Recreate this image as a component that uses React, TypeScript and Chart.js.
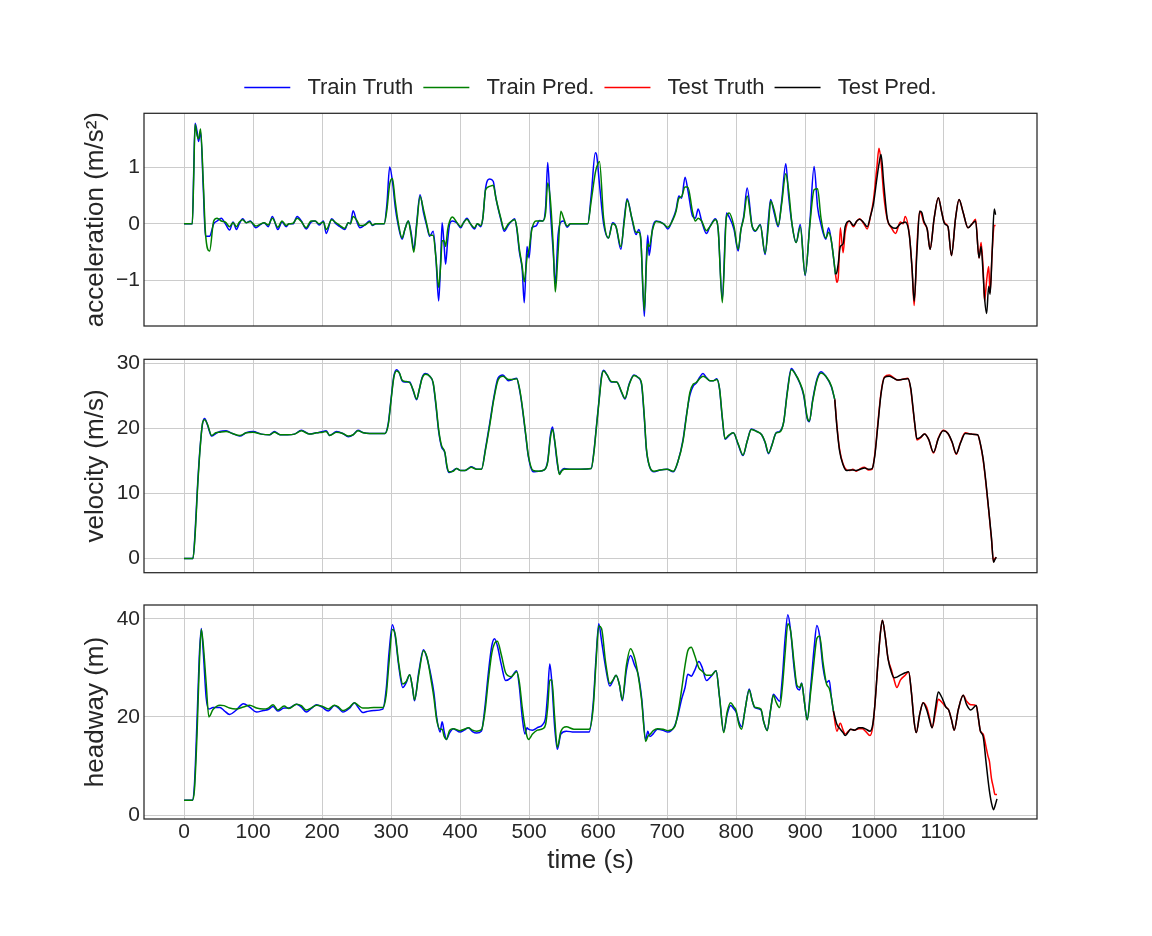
import React, { useEffect, useRef } from "react";
import { Chart, registerables } from "chart.js";

Chart.register(...registerables);

// ---------- tick labels ----------
const xTicks = [0, 100, 200, 300, 400, 500, 600, 700, 800, 900, 1000, 1100];
const accTicks = [-1, 0, 1];
const velTicks = [0, 10, 20, 30];
const hwTicks = [0, 20, 40];

const legendNames = ["Train Truth", "Train Pred.", "Test Truth", "Test Pred."];

// ---------- acceleration ----------
const accTrainT = [
  0, 12, 14, 16, 19, 21, 24, 28, 31, 37,
  43, 48, 54, 60, 66, 71, 76, 80, 85, 90,
  96, 104, 110, 116, 122, 128, 136, 142, 148, 152,
  158, 164, 170, 177, 184, 190, 196, 202, 206, 214,
  220, 226, 233, 238, 241, 245, 250, 255, 262, 269,
  273, 278, 284, 290, 294, 298, 302, 306, 310, 316,
  320, 325, 329, 333, 337, 342, 347, 352, 356, 361,
  365, 369, 372, 374, 377, 379, 382, 385, 389, 395,
  401, 405, 410, 415, 421, 425, 430, 433, 437, 443,
  448, 452, 459, 464, 470, 475, 479, 482, 486, 490,
  493, 497, 500, 504, 510, 515, 520, 524, 527, 531,
  535, 538, 542, 546, 550, 555, 560, 570, 585, 590,
  596, 598, 602, 608, 615, 621, 626, 633, 638, 642,
  649, 655, 659, 662, 667, 670, 672, 674, 679, 684,
  695, 701, 708, 713, 717, 721, 726, 730, 737, 741,
  745, 750, 757, 762, 770, 774, 780, 786, 790, 797,
  803, 807, 811, 816, 823, 828, 835, 842, 847, 850,
  855, 861, 866, 872, 876, 881, 887, 893, 900, 907,
  913, 918, 923, 930, 934, 938, 944,
];
const accTrainTruth = [
  0, 0, 0.9, 1.77, 1.62, 1.45, 1.62, 0.6, -0.22, -0.22,
  0, 0.05, 0.1, 0, -0.11, 0.03, -0.1, 0, 0.09, 0.02,
  0.05, -0.07, -0.02, 0.02, -0.05, 0.13, -0.1, 0.03, -0.05, 0,
  0, 0.13, 0.05, -0.09, 0.03, 0.05, -0.02, 0.05, -0.17, 0.09,
  0, -0.05, -0.1, 0.02, 0, 0.23, 0.05, -0.07, -0.02, 0.05,
  -0.03, 0, 0, 0, 0.35, 1.0, 0.75, 0.3, 0, -0.27,
  -0.1, 0.05, -0.15, -0.45, 0, 0.51, 0.2, -0.05, -0.22, -0.13,
  -0.6, -1.36, -0.6, 0.02, -0.4, -0.71, -0.3, 0, 0.05, 0.02,
  -0.07, 0.02, 0.1, 0, -0.09, 0, -0.05, 0.1, 0.63, 0.79,
  0.75, 0.45, 0.08, -0.13, -0.02, 0.05, 0.09, -0.07, -0.5, -0.8,
  -1.39, -0.4, -0.6, -0.07, -0.04, 0.06, 0.05, 0.3, 1.08, 0.2,
  -0.5, -1.06, -0.2, 0.03, 0.05, -0.06, 0, 0, 0, 0.5,
  1.25, 1.2, 0.7, 0, -0.25, 0.02, -0.05, -0.45, 0.1, 0.44,
  0.09, -0.19, -0.1, -0.28, -1.63, -0.6, -0.2, -0.56, -0.07, 0.05,
  0, -0.09, 0.08, 0.25, 0.49, 0.45, 0.82, 0.6, 0.13, 0.1,
  0.26, 0.05, -0.17, -0.05, 0.09, -0.1, -1.33, 0.19, 0.12, -0.1,
  -0.48, -0.1, 0.13, 0.63, -0.03, -0.13, -0.01, -0.54, 0.1, 0.43,
  0.2, -0.05, 0.4, 1.06, 0.5, -0.01, -0.33, -0.01, -0.91, 0.05,
  1.01, 0.3, -0.01, -0.27, -0.07, -0.3, -0.89,
];
const accTrainPred = [
  0, 0, 0.8, 1.75, 1.55, 1.5, 1.67, 0.7, -0.15, -0.48,
  0.05, 0.1, 0.05, 0.03, -0.05, 0.02, -0.05, 0.03, 0.07, 0.02,
  0.04, -0.04, -0.01, 0.02, -0.02, 0.1, -0.06, 0.05, -0.03, 0,
  0.01, 0.1, 0.04, -0.07, 0.05, 0.05, 0, 0.03, -0.1, 0.07,
  0.02, -0.03, -0.08, 0.02, 0, 0.13, 0.07, -0.03, -0.02, 0.03,
  -0.02, 0, 0, 0, 0.25, 0.7, 0.8, 0.4, 0.05, -0.25,
  -0.1, 0.05, -0.2, -0.5, -0.05, 0.48, 0.25, -0.02, -0.2, -0.2,
  -0.6, -1.12, -0.7, -0.3, -0.3, -0.4, -0.1, 0.05, 0.12, 0.03,
  -0.05, 0.02, 0.08, 0, -0.07, 0, -0.03, 0.1, 0.6, 0.66,
  0.68, 0.45, 0.1, -0.1, 0, 0.05, 0.07, -0.05, -0.45, -0.75,
  -1.02, -0.6, -0.45, -0.1, 0.05, 0.05, 0.05, 0.2, 0.72, 0.4,
  -0.4, -1.2, -0.5, 0.22, 0.1, -0.04, 0, 0, 0, 0.4,
  0.9, 1.0, 1.1, 0.1, -0.25, 0, -0.05, -0.4, 0.05, 0.42,
  0.1, -0.15, -0.15, -0.3, -1.53, -0.7, -0.35, -0.4, -0.1, 0.04,
  0, -0.06, 0.06, 0.22, 0.45, 0.48, 0.65, 0.65, 0.2, 0.05,
  0.1, 0.05, -0.12, -0.05, 0.07, -0.1, -1.39, 0.12, 0.19, -0.05,
  -0.45, -0.1, 0.1, 0.49, -0.03, -0.12, -0.02, -0.52, 0, 0.4,
  0.25, -0.03, 0.35, 0.88, 0.6, 0, -0.33, -0.05, -0.9, 0,
  0.6, 0.62, 0.1, -0.25, -0.15, -0.3, -0.89,
];
const accTestT = [
  944, 946, 948, 951, 955, 958, 964, 970, 975, 979,
  985, 990, 995, 999, 1004, 1007, 1010, 1014, 1019, 1025,
  1031, 1038, 1042, 1045, 1051, 1055, 1058, 1062, 1066, 1069,
  1072, 1077, 1081, 1087, 1093, 1098, 1102, 1107, 1112, 1118,
  1123, 1129, 1136, 1142, 1147, 1152, 1155, 1158, 1160, 1163,
  1166, 1168, 1171, 1174, 1176,
];
const accTestTruth = [
  -0.89, -1.03, -0.95, -0.07, -0.51, -0.15, 0.05, -0.05, 0.05, 0.09,
  0, -0.09, 0.15, 0.42, 1.0, 1.33, 1.1, 0.5, 0.08, -0.07,
  -0.17, 0.03, 0, 0.13, -0.19, -0.8, -1.44, -0.4, 0.22, 0.15,
  0.02, -0.1, -0.45, 0.1, 0.46, 0.2, 0.02, -0.05, -0.56, 0.1,
  0.43, 0.2, -0.07, 0, 0.08, -0.6, -0.33, -0.8, -1.36, -1.0,
  -0.75, -1.21, -0.5, -0.03, -0.03,
];
const accTestPred = [
  -0.89, -0.85, -0.7, -0.4, -0.35, -0.05, 0.05, -0.03, 0.05, 0.08,
  0.02, -0.05, 0.15, 0.35, 0.8, 1.05, 1.22, 0.7, 0.1, -0.05,
  -0.08, 0, 0.02, 0.03, -0.2, -0.8, -1.36, -0.5, 0.22, 0.2,
  0.05, -0.1, -0.45, 0.1, 0.46, 0.2, 0, -0.05, -0.56, 0.1,
  0.43, 0.2, -0.07, 0, 0.05, -0.6, -0.4, -0.9, -1.3, -1.58,
  -1.1, -1.24, -0.5, 0.26, 0.16,
];

// ---------- velocity ----------
const velTrainT = [
  0, 13, 16, 20, 24, 27, 30, 34, 40, 46,
  52, 61, 70, 81, 90, 100, 112, 124, 131, 139,
  150, 160, 170, 182, 192, 201, 206, 211, 221, 230,
  238, 245, 252, 260, 269, 280, 291, 296, 300, 304,
  308, 312, 316, 320, 327, 332, 337, 341, 345, 350,
  356, 361, 365, 369, 373, 378, 381, 384, 390, 395,
  401, 407, 412, 416, 424, 431, 437, 443, 449, 455,
  462, 470, 476, 482, 486, 490, 495, 499, 506, 514,
  522, 527, 531, 534, 537, 541, 544, 547, 551, 560,
  575, 590, 594, 597, 602, 605, 608, 613, 619, 627,
  634, 639, 645, 652, 658, 663, 667, 670, 675, 681,
  690, 700, 709, 716, 723, 728, 733, 738, 742, 747,
  752, 757, 762, 767, 772, 776, 780, 784, 789, 796,
  803, 810, 816, 822, 830, 837, 842, 847, 852, 858,
  863, 869, 874, 880, 886, 892, 898, 903, 906, 911,
  917, 923, 930, 938, 943,
];
const velTrainTruth = [
  0, 0, 4, 12, 18, 20.8, 21.5, 20.5, 18.8, 19.2,
  19.5, 19.6, 19.2, 18.8, 19.3, 19.5, 19.1, 19.0, 19.5, 19.0,
  19.0, 19.1, 19.7, 19.1, 19.3, 19.5, 19.6, 18.9, 19.5, 19.2,
  18.7, 19.0, 19.7, 19.3, 19.2, 19.2, 19.2, 20.8, 24.5, 28.0,
  29.0, 28.5, 27.3, 27.1, 27.1, 25.8, 24.4, 26.0, 27.8, 28.4,
  28.0, 26.9, 23.5, 19.5, 17.2, 16.2, 14.0, 13.2, 13.5, 13.8,
  13.5, 13.5, 13.8, 14.1, 13.7, 13.7, 17.0, 20.8, 24.8, 27.7,
  28.2, 27.3, 27.5, 27.7, 26.0, 23.3, 19.0, 15.6, 13.3, 13.4,
  13.6, 15.0, 19.0, 20.2, 18.0, 14.5, 13.0, 13.5, 13.8, 13.7,
  13.7, 13.8, 16.5, 19.7, 25.0, 28.0, 28.9, 28.2, 27.1, 27.1,
  25.5, 24.5, 26.8, 28.2, 27.8, 26.7, 21.5, 16.7, 14.0, 13.3,
  13.6, 13.7, 13.3, 15.0, 18.2, 22.0, 25.1, 26.5, 26.9, 27.8,
  28.4, 27.8, 27.3, 27.3, 27.6, 26.0, 21.5, 18.3, 18.8, 19.3,
  17.5, 15.8, 18.0, 19.9, 19.5, 19.0, 17.8, 16.1, 17.5, 19.3,
  19.5, 21.0, 25.5, 29.2, 28.3, 27.0, 25.0, 21.5, 21.0, 24.4,
  27.5, 28.7, 28.0, 26.4, 24.4,
];
const velTrainPred = [
  0, 0, 3.5, 11.5, 17.8, 20.9, 21.3, 20.6, 18.9, 19.3,
  19.4, 19.5, 19.2, 18.9, 19.3, 19.4, 19.1, 19.0, 19.4, 19.0,
  19.0, 19.1, 19.6, 19.1, 19.3, 19.4, 19.5, 18.9, 19.4, 19.2,
  18.8, 19.0, 19.6, 19.3, 19.2, 19.2, 19.2, 20.6, 24.3, 27.8,
  28.8, 28.5, 27.4, 27.2, 27.0, 25.9, 24.5, 26.0, 27.7, 28.3,
  28.0, 27.0, 23.8, 19.8, 17.4, 16.3, 14.2, 13.3, 13.4, 13.8,
  13.5, 13.5, 13.8, 14.0, 13.7, 13.7, 16.8, 20.5, 24.5, 27.4,
  28.0, 27.5, 27.5, 27.6, 26.2, 23.5, 19.2, 15.8, 13.5, 13.4,
  13.6, 14.8, 18.6, 19.8, 18.2, 14.8, 12.9, 13.4, 13.7, 13.7,
  13.7, 13.8, 16.3, 19.5, 24.8, 27.8, 28.8, 28.2, 27.2, 27.1,
  25.6, 24.6, 26.7, 28.1, 27.8, 26.9, 21.8, 16.9, 14.0, 13.4,
  13.6, 13.7, 13.4, 15.0, 18.0, 21.8, 25.5, 26.8, 27.0, 27.6,
  28.0, 27.7, 27.3, 27.3, 27.5, 26.1, 21.7, 18.4, 18.9, 19.3,
  17.6, 15.9, 18.0, 19.8, 19.5, 19.0, 17.9, 16.2, 17.4, 19.3,
  19.4, 21.0, 25.3, 29.0, 28.3, 27.1, 25.2, 21.7, 21.1, 24.2,
  27.3, 28.5, 28.0, 26.5, 24.4,
];
const velTestT = [
  943, 946, 950, 955, 960, 965, 969, 974, 980, 986,
  992, 997, 1001, 1005, 1010, 1015, 1022, 1028, 1034, 1040,
  1049, 1053, 1056, 1059, 1062, 1067, 1073, 1079, 1086, 1093,
  1100, 1107, 1113, 1119, 1125, 1132, 1141, 1150, 1154, 1158,
  1162, 1166, 1170, 1173, 1175, 1177,
];
const velTestTruth = [
  24.4, 20.5, 16.7, 14.5, 13.6, 13.5, 13.7, 13.4, 13.8, 14.0,
  13.6, 13.7, 16.0, 20.3, 25.5, 27.9, 28.2, 27.8, 27.4, 27.5,
  27.7, 26.0, 23.3, 20.5, 18.2, 18.5, 19.1, 18.3, 16.2, 18.5,
  19.7, 19.2, 17.8, 16.0, 17.8, 19.3, 19.1, 19.0, 17.5, 15.1,
  11.5, 7.4, 3.0, -0.5, 0.0, 0.15,
];
const velTestPred = [
  24.4, 20.3, 16.5, 14.4, 13.5, 13.6, 13.6, 13.5, 13.7, 13.9,
  13.7, 13.8, 15.8, 20.0, 25.3, 27.8, 28.0, 27.7, 27.4, 27.5,
  27.6, 26.2, 23.5, 20.6, 18.4, 18.6, 19.1, 18.3, 16.3, 18.4,
  19.6, 19.2, 17.9, 16.1, 17.7, 19.2, 19.1, 19.0, 17.6, 15.3,
  11.7, 7.5, 3.2, -0.6, -0.2, 0.2,
];

// ---------- headway ----------
const hwTrainT = [
  0, 12, 15, 19, 22, 25, 28, 32, 36, 42,
  52, 58, 66, 75, 86, 95, 105, 115, 122, 129,
  136, 145, 152, 163, 170, 177, 185, 192, 200, 209,
  218, 224, 230, 240, 247, 252, 259, 265, 275, 288,
  293, 297, 302, 306, 311, 317, 322, 327, 331, 334,
  340, 347, 352, 358, 362, 366, 371, 374, 377, 380,
  385, 390, 400, 406, 412, 418, 424, 431, 436, 441,
  446, 450, 454, 460, 466, 474, 482, 486, 490, 494,
  497, 499, 505, 512, 520, 524, 527, 530, 533, 537,
  541, 546, 554, 565, 575, 587, 593, 597, 601, 605,
  611, 617, 622, 626, 631, 635, 641, 647, 653, 658,
  663, 669, 672, 675, 680, 686, 694, 701, 711, 716,
  721, 726, 730, 735, 740, 746, 751, 757, 764, 771,
  776, 782, 787, 792, 797, 800, 804, 808, 813, 819,
  823, 827, 836, 840, 845, 850, 854, 858, 863, 867,
  871, 875, 879, 884, 888, 892, 895, 899, 903, 908,
  913, 917, 921, 926, 931, 935, 938, 941,
];
const hwTrainTruth = [
  3, 3, 6, 20, 32, 38, 33, 24, 21.6, 21.9,
  21.9, 21.3, 20.5, 21.3, 22.7, 22.0, 21.0, 21.3, 21.5, 22.1,
  21.2, 21.8, 21.8, 22.6, 22.0, 21.0, 21.8, 22.5, 22.0, 21.2,
  22.3, 21.8, 21.0, 21.8, 22.9, 22.0, 20.9, 21.1, 21.3, 21.6,
  25.7, 33, 38.8, 36.5, 30.5, 26.0, 27.0, 28.6, 26.0, 23.3,
  29, 33.7, 32.0, 28.3, 25.0, 20.0, 16.9, 19.0, 17.0, 15.4,
  16.8, 17.6, 16.9, 17.3, 17.8, 17.0, 16.7, 17.1, 22, 29,
  34.5, 35.9, 34.5, 30.5, 27.4, 28.0, 29.4, 26, 20, 16.5,
  17.8, 17.5, 17.3, 17.8, 18.5, 20, 25, 30.8, 27, 18,
  13.4, 16.5, 17.1, 16.9, 16.9, 16.9, 22.9, 32, 39.0, 35.5,
  30, 26.3, 27.5, 28.5, 26.5, 23.3, 29.5, 32.5, 30.5, 28.7,
  24, 15.4, 17.1, 16.0, 16.6, 17.5, 17.3, 16.9, 18.2, 20.5,
  23.6, 26.0, 28.7, 28.3, 29.5, 31.3, 30.0, 27.4, 28.3, 29.4,
  24, 17.1, 20.5, 22.3, 21.6, 21.0, 19, 18.0, 21.5, 25.7,
  23.5, 21.9, 21.4, 19, 17.3, 21.5, 24.6, 24.0, 23.2, 28,
  36, 40.8, 37.5, 30, 26.0, 25.5, 26.9, 23, 19.4, 26,
  34, 38.6, 36.5, 30, 27.0, 27.4, 24, 21.2,
];
const hwTrainPred = [
  3, 3, 5, 17, 30, 37.8, 34.5, 27, 20.0, 21.5,
  22.4, 22.3, 21.8, 21.6, 22.0, 22.4, 21.8, 21.6, 21.8, 22.5,
  21.4, 22.2, 21.7, 22.6, 22.3, 21.4, 21.9, 22.4, 22.2, 21.6,
  22.4, 22.0, 21.3, 22.0, 22.9, 22.4, 21.8, 21.8, 21.9, 21.9,
  24.5, 31, 37.8, 36.8, 31, 26.7, 27.2, 28.6, 26.0, 23.5,
  28.5, 33.5, 32.2, 27.5, 24.0, 19.5, 17.5, 17.5, 16.0, 15.4,
  17.3, 17.6, 17.2, 17.5, 17.8, 17.3, 17.1, 17.4, 21, 27.5,
  33.0, 35.0, 35.4, 32.5, 29.0, 28.2, 29.2, 27, 22, 18,
  16.0, 15.4, 16.5, 17.3, 17.6, 18.5, 22, 27.5, 27.5, 20,
  13.8, 17.0, 18.0, 17.5, 17.5, 17.5, 22.0, 31, 38.5, 38.0,
  31, 26.8, 27.6, 28.5, 26.5, 23.5, 30.5, 33.9, 32, 28.5,
  23.5, 15.0, 16.0, 16.4, 17.2, 17.6, 17.5, 17.2, 18.0, 21,
  25.5, 30.5, 33.5, 34.2, 32.5, 30.0, 29.3, 28.5, 28.5, 29.4,
  24, 16.8, 21, 22.9, 22.0, 21.3, 18.5, 17.5, 21.5, 25.5,
  23.5, 22.0, 21.6, 19, 17.2, 21.5, 24.4, 23.0, 21.9, 26,
  33, 39.0, 37.5, 31, 26.5, 26.0, 26.8, 23, 19.4, 25,
  31.5, 36.0, 36.5, 31, 26.7, 25.8, 24, 21.2,
];
const hwTestT = [
  941, 946, 951, 955, 958, 962, 966, 972, 978, 983,
  988, 994, 998, 1001, 1005, 1009, 1012, 1016, 1020, 1025,
  1029, 1033, 1038, 1045, 1050, 1054, 1058, 1061, 1066, 1071,
  1076, 1080, 1084, 1089, 1093, 1098, 1104, 1108, 1112, 1116,
  1122, 1129, 1134, 1140, 1148, 1151, 1154, 1158, 1162, 1165,
  1167, 1170, 1173, 1175, 1178,
];
const hwTestTruth = [
  21.2, 17.1, 18.7, 17.3, 16.5, 17.0, 17.5, 17.3, 17.6, 17.6,
  17.0, 16.2, 18, 22.3, 30, 37, 39.7, 36.5, 32, 29.6,
  27.5, 26.0, 27.5, 28.5, 29.2, 25, 19, 16.8, 20.5, 22.9,
  22.0, 20.0, 17.8, 21, 23.6, 23.0, 22.0, 21.4, 19.5, 17.3,
  21.5, 24.4, 23.2, 22.5, 22.3, 19.8, 17.1, 16.5, 14.0, 12.0,
  11.0, 7.5, 5.5, 4.2, 4.2,
];
const hwTestPred = [
  21.2, 18.5, 17.5, 16.8, 16.2, 16.8, 17.5, 17.3, 17.8, 17.8,
  17.5, 17.1, 18.5, 22.3, 30, 37, 39.7, 36.5, 32, 29.1,
  28.0, 28.1, 28.5, 29.0, 29.2, 25, 19, 16.8, 20.5, 22.9,
  21.5, 19.5, 17.8, 22, 25.1, 24.0, 22.0, 21.4, 19.5, 17.3,
  21.5, 24.4, 22.5, 21.4, 22.3, 19.8, 17.1, 16.0, 11.0, 7.2,
  5.0, 2.5, 1.1, 1.8, 3.3,
];

// ---------- styling ----------
const FONT = "'Liberation Sans', Arial, sans-serif";
const TXT = "#262626";
const GRID = "#cccccc";
const COLORS = ["#0000ff", "#008000", "#ff0000", "#000000"];
const X_MIN = -58;
const X_MAX = 1236;
const CANVAS_W = 1152;

const framePlugin = {
  id: "frame",
  afterDraw(chart: any) {
    const { ctx, chartArea: a } = chart;
    ctx.save();
    ctx.strokeStyle = "#262626";
    ctx.lineWidth = 1.25;
    ctx.strokeRect(a.left, a.top, a.right - a.left, a.bottom - a.top);
    ctx.restore();
  },
};

function pts(t: number[], v: number[]) {
  return t.map((x, i) => ({ x, y: v[i] }));
}

function fmt(v: number) {
  return v < 0 ? "\u2212" + Math.abs(v) : String(v);
}

interface Panel {
  top: number;
  height: number;
  padTop: number;
  padBottom: number;
  xAxisH: number;
  yMin: number;
  yMax: number;
  yTicks: number[];
  yTitle: string;
  showX: boolean;
  legend: boolean;
  series: number[][];
}

const panels: Panel[] = [
  {
    top: 0, height: 360, padTop: 66.5, padBottom: 34, xAxisH: 0,
    yMin: -1.8, yMax: 1.947, yTicks: accTicks, yTitle: "acceleration (m/s\u00b2)",
    showX: false, legend: true,
    series: [accTrainT, accTrainTruth, accTrainPred, accTestT, accTestTruth, accTestPred],
  },
  {
    top: 330, height: 270, padTop: 29.3, padBottom: 27.3, xAxisH: 0,
    yMin: -2.2, yMax: 30.6, yTicks: velTicks, yTitle: "velocity (m/s)",
    showX: false, legend: false,
    series: [velTrainT, velTrainTruth, velTrainPred, velTestT, velTestTruth, velTestPred],
  },
  {
    top: 580, height: 356, padTop: 25, padBottom: 0, xAxisH: 117,
    yMin: -0.8, yMax: 42.8, yTicks: hwTicks, yTitle: "headway (m)",
    showX: true, legend: false,
    series: [hwTrainT, hwTrainTruth, hwTrainPred, hwTestT, hwTestTruth, hwTestPred],
  },
];

function buildConfig(p: Panel): any {
  const [trT, trTruth, trPred, teT, teTruth, tePred] = p.series;
  const mk = (i: number, data: any[]) => ({
    label: legendNames[i],
    data,
    borderColor: COLORS[i],
    backgroundColor: COLORS[i],
    borderWidth: 1.5,
    pointRadius: 0,
    fill: false,
    cubicInterpolationMode: "monotone",
    order: 3 - i,
  });
  return {
    type: "line",
    data: {
      datasets: [
        mk(0, pts(trT, trTruth)),
        mk(1, pts(trT, trPred)),
        mk(2, pts(teT, teTruth)),
        mk(3, pts(teT, tePred)),
      ],
    },
    options: {
      responsive: false,
      animation: false,
      events: [],
      layout: { padding: { left: 0, right: CANVAS_W - 1037, top: p.padTop, bottom: p.padBottom } },
      plugins: {
        legend: {
          display: p.legend,
          position: "top",
          fullSize: false,
          weight: 1000,
          labels: {
            usePointStyle: true,
            pointStyle: "line",
            pointStyleWidth: 46,
            padding: 10,
            color: TXT,
            font: { family: FONT, size: 22 },
            sort: (a: any, b: any) => a.datasetIndex - b.datasetIndex,
            generateLabels: (chart: any) => {
              const items = Chart.defaults.plugins.legend.labels.generateLabels(chart);
              items.forEach((it: any) => {
                it.text = " " + it.text;
              });
              return items;
            },
          },
        },
        title: {
          display: p.legend,
          text: "",
          padding: 0,
          fullSize: false,
          weight: 500,
          font: { family: FONT, size: 4, lineHeight: 1.2 },
        },
        tooltip: { enabled: false },
      },
      scales: {
        x: {
          type: "linear",
          min: X_MIN,
          max: X_MAX,
          afterBuildTicks: (s: any) => {
            s.ticks = xTicks.map((v) => ({ value: v }));
          },
          afterFit: (s: any) => {
            s.height = p.xAxisH;
          },
          grid: { color: GRID, lineWidth: 1, drawTicks: false },
          border: { display: false },
          ticks: {
            display: p.showX,
            padding: 1,
            color: TXT,
            font: { family: FONT, size: 21 },
            maxRotation: 0,
            autoSkip: false,
            callback: (v: any) => String(v),
          },
          title: {
            display: p.showX,
            text: "time (s)",
            color: TXT,
            font: { family: FONT, size: 26 },
            padding: { top: 0, bottom: 60 },
          },
        },
        y: {
          type: "linear",
          min: p.yMin,
          max: p.yMax,
          afterBuildTicks: (s: any) => {
            s.ticks = p.yTicks.map((v) => ({ value: v }));
          },
          afterFit: (s: any) => {
            s.width = 144;
          },
          grid: { color: GRID, lineWidth: 1, drawTicks: false },
          border: { display: false },
          ticks: {
            padding: 4,
            color: TXT,
            font: { family: FONT, size: 21 },
            callback: (v: any) => fmt(Number(v)),
          },
          title: {
            display: true,
            text: p.yTitle,
            color: TXT,
            font: { family: FONT, size: 26 },
            padding: { top: 80, bottom: 0 },
          },
        },
      },
    },
    plugins: [framePlugin],
  };
}

export default function App() {
  const r0 = useRef<HTMLCanvasElement>(null);
  const r1 = useRef<HTMLCanvasElement>(null);
  const r2 = useRef<HTMLCanvasElement>(null);

  useEffect(() => {
    const refs = [r0, r1, r2];
    const charts = refs.map((r, i) => new Chart(r.current as HTMLCanvasElement, buildConfig(panels[i])));
    return () => charts.forEach((c) => c.destroy());
  }, []);

  const refs = [r0, r1, r2];
  return (
    <div style={{ position: "absolute", left: 0, top: 0, width: CANVAS_W, height: 936, background: "#fff" }}>
      {panels.map((p, i) => (
        <canvas
          key={i}
          ref={refs[i]}
          width={CANVAS_W}
          height={p.height}
          style={{ position: "absolute", left: 0, top: p.top, width: CANVAS_W, height: p.height }}
        />
      ))}
    </div>
  );
}
